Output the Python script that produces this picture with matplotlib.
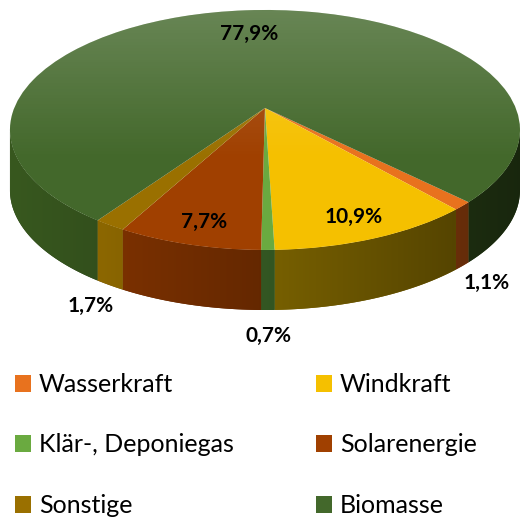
import numpy as np
import matplotlib
matplotlib.use("Agg")
import matplotlib.pyplot as plt
import matplotlib.transforms as mtransforms
from matplotlib.colors import to_rgb
from matplotlib.patches import Circle, Polygon

# data
categories = ["Wasserkraft", "Windkraft", "Klär-, Deponiegas", "Solarenergie", "Sonstige", "Biomasse"]
shares = [1.1, 10.9, 0.7, 7.7, 1.7, 77.9]

# styles
top_colors = ["#e8721e", "#f5c000", "#6aaa40", "#a04000", "#9a7000", "#43682b"]
side_colors = ["#cc5913", "#a78600", "#477830", "#8b3700", "#9b7200", "#38581f"]
DEPTH = 0.5   # wall height in y data units
TILT = 0.183  # how far the pie centre moves back (perspective)

plt.rcParams["font.family"] = ["Lato", "DejaVu Sans"]


class Perspective(mtransforms.Transform):
    # maps the flat unit disc onto itself, pushing the centre back like a camera would
    input_dims = output_dims = 2
    is_separable = False
    has_inverse = False

    def __init__(self, b):
        super().__init__()
        self.b = b

    def transform_non_affine(self, xy):
        xy = np.asarray(xy, dtype=float)
        u, v = xy[:, 0], xy[:, 1]
        d = 1 + self.b * v
        return np.column_stack([np.sqrt(1 - self.b ** 2) * u / d, (v + self.b) / d])


persp = Perspective(TILT)


def rim(t_deg):
    t = np.radians(np.atleast_1d(t_deg))
    return persp.transform(np.column_stack([np.cos(t), np.sin(t)]))


fig = plt.figure(figsize=(5.2, 5.2), dpi=100)
ax = fig.add_axes([0, 0, 1, 1])

wedges, _ = ax.pie(shares, startangle=-45, counterclock=False, colors=top_colors,
                   radius=1, center=(0, 0), frame=False,
                   wedgeprops=dict(linewidth=0, zorder=3))
for w in wedges:
    w.set_transform(persp + ax.transData)

# side walls: visible rim runs, filled with a left->right shade
xg = np.linspace(-1, 1, 300)
shade = 1 - 0.28 * (xg + 1)
for w, sc in zip(wedges, side_colors):
    base = np.array(to_rgb(sc))
    t = np.linspace(w.theta1, w.theta2, int((w.theta2 - w.theta1) * 4) + 2)
    p = rim(t)
    vis = p[:, 1] <= 0
    runs, cur = [], []
    for ok, pt in zip(vis, p):
        if ok:
            cur.append(pt)
        elif cur:
            runs.append(cur)
            cur = []
    if cur:
        runs.append(cur)
    for r in runs:
        if len(r) < 2:
            continue
        r = np.array(r)
        pts = np.vstack([r, (r - [0, DEPTH])[::-1]])
        wall = Polygon(pts, closed=True, facecolor=base * 0.7, edgecolor="none", zorder=2)
        ax.add_patch(wall)
        img = np.clip(base[None, None, :] * shade[None, :, None], 0, 1)
        im = ax.imshow(img, extent=(-1, 1, -1 - DEPTH, 0.05), aspect="auto",
                       interpolation="bilinear", zorder=2.5)
        im.set_clip_path(wall)

# soft light on the top surface
grad = np.zeros((200, 1, 4))
grad[..., :3] = 1.0
grad[:, 0, 3] = np.clip(np.linspace(0.2, -0.12, 200), 0, 1)
im = ax.imshow(grad, extent=(-1, 1, -1, 1), origin="upper", aspect="auto", zorder=4)
im.set_clip_path(Circle((0, 0), 1, transform=ax.transData))

# percentage labels
for w, v in zip(wedges, shares):
    x, y = rim((w.theta1 + w.theta2) / 2)[0]
    txt = f"{v:.1f}%".replace(".", ",")
    if v >= 5:
        x, y = 0.8 * x, 0.8 * y
    else:
        x, y = 1.12 * x, 1.22 * y - DEPTH
    ax.text(x, y, txt, ha="center", va="center", fontsize=15,
            fontweight="bold", color="black", zorder=6)

ax.set_aspect("auto")
ax.set_xlim(-1.039, 1.0)
ax.set_ylim(-3.25, 1.083)
ax.axis("off")

order = [0, 2, 4, 1, 3, 5]
fig.legend([wedges[i] for i in order], [categories[i] for i in order],
           loc="upper left", bbox_to_anchor=(15 / 520, 1 - 373 / 520), ncol=2,
           frameon=False, fontsize=18, handlelength=0.65, handleheight=0.65,
           handletextpad=0.3, columnspacing=3.3, labelspacing=1.5,
           borderaxespad=0, borderpad=0)

fig.savefig("out.png", dpi=100)
